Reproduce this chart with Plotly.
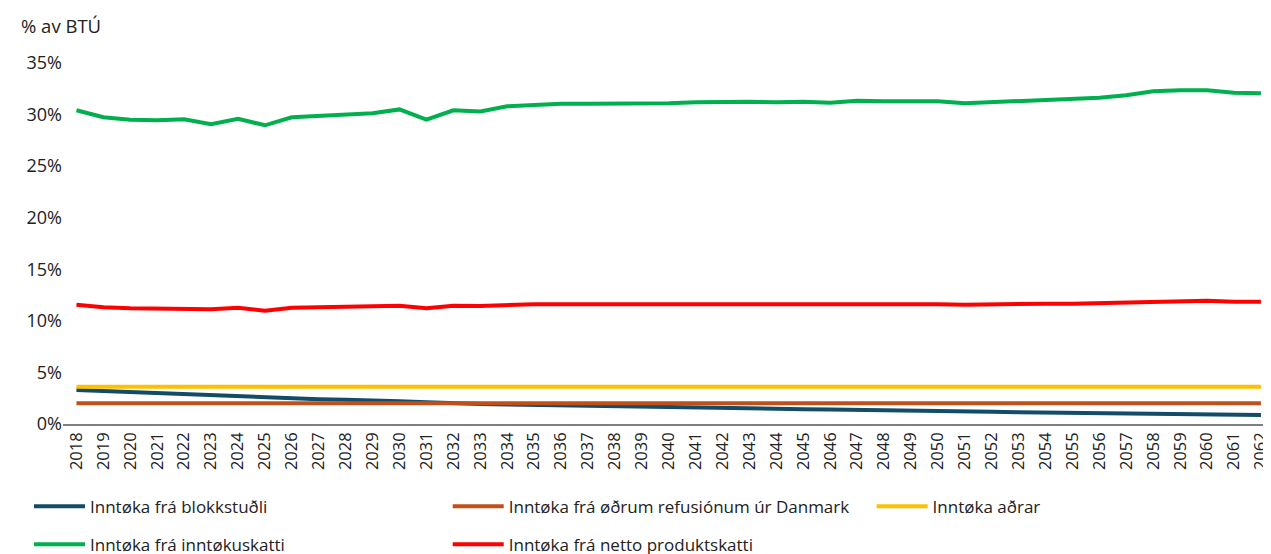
import plotly.graph_objects as go

years = list(range(2018, 2063))

blokkstudul = [3.3, 3.2, 3.05, 2.95, 2.85, 2.75, 2.65, 2.55, 2.45, 2.4, 2.35, 2.3, 2.2, 2.1, 2.0,
               1.95, 1.9, 1.85, 1.8, 1.78, 1.74, 1.7, 1.65, 1.6, 1.55, 1.5, 1.48, 1.44, 1.4, 1.35,
               1.32, 1.28, 1.24, 1.22, 1.18, 1.15, 1.12, 1.1, 1.06, 1.03, 1.0, 0.97, 0.94, 0.92, 0.88]
refusion = [2.0] * 45
adrar = [3.6] * 45
inntokuskattur = [30.42, 29.74, 29.5, 29.45, 29.55, 29.06, 29.6, 28.96, 29.74, 29.84, 30.03, 30.13,
                  30.5, 29.5, 30.42, 30.3, 30.8, 30.95, 31.05, 31.05, 31.05, 31.05, 31.1, 31.2,
                  31.25, 31.25, 31.2, 31.25, 31.15, 31.34, 31.3, 31.34, 31.3, 31.1, 31.2, 31.25,
                  31.44, 31.5, 31.63, 31.88, 32.26, 32.36, 32.36, 32.12, 32.07]
produktskattur = [11.56, 11.32, 11.22, 11.22, 11.22, 11.13, 11.27, 10.98, 11.27, 11.32, 11.37, 11.42,
                  11.47, 11.22, 11.47, 11.45, 11.56, 11.61, 11.61, 11.61, 11.61, 11.61, 11.61, 11.66,
                  11.66, 11.66, 11.61, 11.66, 11.61, 11.66, 11.61, 11.66, 11.61, 11.56, 11.61, 11.61,
                  11.66, 11.66, 11.71, 11.8, 11.9, 11.95, 11.95, 11.86, 11.86]

y_ticks = [0, 5, 10, 15, 20, 25, 30, 35]
y_tick_labels = [f"{v}%" for v in y_ticks]

series = [
    ("Inntøka frá blokkstuðli", blokkstudul, "#124C68", "legend"),
    ("Inntøka frá inntøkuskatti", inntokuskattur, "#00B04F", "legend"),
    ("Inntøka frá øðrum refusiónum úr Danmark", refusion, "#C0501A", "legend2"),
    ("Inntøka frá netto produktskatti", produktskattur, "#FF0000", "legend2"),
    ("Inntøka aðrar", adrar, "#FFC000", "legend3"),
]

FONT = "Open Sans"
TXT = "#222222"
fig = go.Figure()
for name, vals, color, leg in series:
    fig.add_trace(go.Scatter(
        x=years, y=vals, name=name, mode="lines",
        line=dict(color=color, width=4),
        legend=leg, legendgroup=name,
    ))

legend_common = dict(
    orientation="v", yanchor="top", xanchor="left", y=-0.179,
    font=dict(family=FONT, size=17, color=TXT),
    bgcolor="rgba(0,0,0,0)", traceorder="grouped", tracegroupgap=13,
    itemwidth=51,
)

fig.update_layout(
    width=1271, height=554,
    margin=dict(l=55, r=10, t=55, b=138, autoexpand=False),
    paper_bgcolor="white", plot_bgcolor="white",
    font=dict(family=FONT, size=17, color=TXT),
    showlegend=True,
    legend=dict(x=-0.0282, **legend_common),
    legend2=dict(x=0.319, **legend_common),
    legend3=dict(x=0.6705, **legend_common),
    xaxis=dict(
        range=[2017.5, 2062.3], tickmode="array", tickvals=years,
        ticktext=[str(y) for y in years], tickangle=-90,
        showgrid=False, zeroline=False, showline=True, linecolor="#7f7f7f", linewidth=1.5,
        ticks="", tickfont=dict(family=FONT, size=16.5, color=TXT),
        automargin=False, ticklabeloverflow="allow",
    ),
    yaxis=dict(
        range=[0, 35], tickmode="array", tickvals=y_ticks, ticktext=y_tick_labels,
        showgrid=False, zeroline=False, showline=False, ticks="",
        tickfont=dict(family=FONT, size=18, color=TXT),
        automargin=False,
    ),
    annotations=[dict(
        text="% av BTÚ", xref="paper", yref="paper", x=-0.0365, y=1.1025,
        xanchor="left", yanchor="middle", showarrow=False,
        font=dict(family=FONT, size=18.5, color=TXT),
    )],
)

fig.write_html("out.html")
